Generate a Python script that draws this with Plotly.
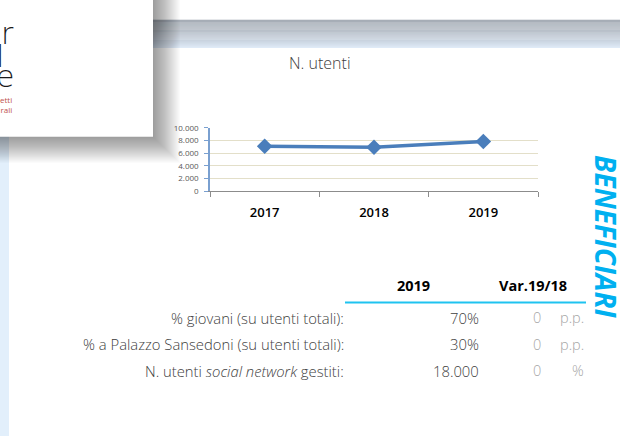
import plotly.graph_objects as go

W, H = 620, 439

# ---- data ----
years = ["2017", "2018", "2019"]
users = [7100, 6950, 7850]
y_ticks = [0, 2000, 4000, 6000, 8000, 10000]

row_labels = [
    "% giovani (su utenti totali):",
    "% a Palazzo Sansedoni (su utenti totali):",
    "N. utenti <i>social network</i> gestiti:",
]
val_2019 = ["70%", "30%", "18.000"]
var_vals = ["0", "0", "0"]
var_units = ["p.p.", "p.p.", "%"]
col_headers = ["2019", "Var.19/18"]


def X(px):
    return px / W


def Y(py):
    return 1 - py / H


def hexmix(c1, c2, t):
    a = [int(c1[i:i + 2], 16) for i in (1, 3, 5)]
    b = [int(c2[i:i + 2], 16) for i in (1, 3, 5)]
    return "#" + "".join(f"{round(a[i] + (b[i] - a[i]) * t):02x}" for i in range(3))


shapes = []
# left light-blue strip
shapes.append(dict(type="rect", xref="paper", yref="paper", x0=X(-2), x1=X(9), y0=Y(441), y1=Y(120),
                   fillcolor="#e2effb", line_width=0, layer="below"))
# top gray gradient band
n = 29
for i in range(n):
    t = i / (n - 1)
    col = hexmix("#99a1ab", "#dfeaf7", t ** 1.3)
    shapes.append(dict(type="rect", xref="paper", yref="paper", x0=X(0), x1=X(622),
                       y0=Y(14 + i + 1.05), y1=Y(14 + i), fillcolor=col, line_width=0, layer="below"))
# card shadow
for k in range(1, 29):
    shapes.append(dict(type="rect", xref="paper", yref="paper", x0=X(-10), x1=X(152 + k),
                       y0=Y(133 + k), y1=Y(-10), fillcolor="rgba(0,0,0,0.0145)", line_width=0, layer="below"))
# white card
shapes.append(dict(type="rect", xref="paper", yref="paper", x0=X(-10), x1=X(153), y0=Y(134), y1=Y(-10),
                   fillcolor="white", line_width=0, layer="below"))
# cyan header line
shapes.append(dict(type="line", xref="paper", yref="paper", x0=X(345), x1=X(586), y0=Y(304), y1=Y(304),
                   line=dict(color="#1fc3f0", width=2)))

ann = []
# logo fragments
logo_font = dict(family="DejaVu Sans", size=30, color="#1a1a1a", weight=200)
ann.append(dict(text="r", x=X(-1), y=Y(28), xanchor="left", yanchor="middle", showarrow=False, font=logo_font,
                xref="paper", yref="paper"))
ann.append(dict(text="l", x=X(-6), y=Y(52), xanchor="left", yanchor="middle", showarrow=False, font=logo_font,
                xref="paper", yref="paper"))
ann.append(dict(text="e", x=X(16), y=Y(72), xanchor="right", yanchor="middle", showarrow=False, font=logo_font,
                xref="paper", yref="paper"))
red_font = dict(family="Open Sans", size=8, color="#c0504d")
ann.append(dict(text="etti<br>rali", x=X(14), y=Y(101), xanchor="right", yanchor="middle", align="right",
                showarrow=False, font=red_font, xref="paper", yref="paper"))

# chart title
ann.append(dict(text="N. utenti", x=X(320), y=Y(58), xanchor="center", yanchor="middle", showarrow=False,
                font=dict(family="Open Sans", size=16, color="#404040", weight=300), xref="paper", yref="paper"))

# vertical label
ann.append(dict(text="<b><i>BENEFICIARI</i></b>", x=X(606), y=Y(236), xanchor="center", yanchor="middle",
                textangle=90, showarrow=False, font=dict(family="Open Sans", size=28, color="#00b0f0"),
                xref="paper", yref="paper"))

# table headers
hdr_font = dict(family="Open Sans", size=14.5, color="#000000", weight="bold")
ann.append(dict(text=col_headers[0], x=X(413), y=Y(287), xanchor="center", yanchor="middle", showarrow=False,
                font=hdr_font, xref="paper", yref="paper"))
ann.append(dict(text=col_headers[1], x=X(533), y=Y(287), xanchor="center", yanchor="middle", showarrow=False,
                font=hdr_font, xref="paper", yref="paper"))

row_y = [320, 347, 374]
lab_font = dict(family="Open Sans", size=14.8, color="#404040", weight=300)
grey_font = dict(family="Open Sans", size=14.5, color="#a6a6a6", weight=300)
for i, yy in enumerate(row_y):
    ann.append(dict(text=row_labels[i], x=X(346), y=Y(yy), xanchor="right", yanchor="middle", showarrow=False,
                    font=lab_font, xref="paper", yref="paper"))
    ann.append(dict(text=val_2019[i], x=X(481), y=Y(yy), xanchor="right", yanchor="middle", showarrow=False,
                    font=lab_font, xref="paper", yref="paper"))
    ann.append(dict(text=var_vals[i], x=X(537), y=Y(yy), xanchor="center", yanchor="middle", showarrow=False,
                    font=grey_font, xref="paper", yref="paper"))
    ann.append(dict(text=var_units[i], x=X(586), y=Y(yy), xanchor="right", yanchor="middle", showarrow=False,
                    font=grey_font, xref="paper", yref="paper"))

fig = go.Figure()
fig.add_trace(go.Scatter(
    x=years, y=users, mode="lines+markers",
    line=dict(color="#4a7ebb", width=3.5),
    marker=dict(symbol="diamond", size=12, color="#4a7ebb"),
    hoverinfo="skip", showlegend=False,
))

fig.update_layout(
    width=W, height=H,
    margin=dict(l=0, r=0, t=0, b=0),
    paper_bgcolor="white", plot_bgcolor="rgba(0,0,0,0)",
    separators=",.",
    shapes=shapes, annotations=ann,
    showlegend=False,
    xaxis=dict(
        type="category", domain=[X(210), X(538)], range=[-0.5, 2.5],
        showline=True, linecolor="#8c8c8c", linewidth=1,
        ticks="outside", ticklen=5, tickcolor="#8c8c8c", tickson="boundaries",
        showgrid=False, zeroline=False,
        tickfont=dict(family="Open Sans", size=13, color="#000000", weight=600),
        ticklabelstandoff=9,
    ),
    yaxis=dict(
        domain=[Y(190), Y(125)], range=[0, 10000], tickvals=y_ticks, tickformat=",d",
        showline=True, linecolor="#7aa0d0", linewidth=1.5,
        ticks="outside", ticklen=4, tickcolor="#7aa0d0",
        gridcolor="#e3dfc9", gridwidth=1, zeroline=False,
        tickfont=dict(family="Open Sans", size=8, color="#595959"),
        ticklabelstandoff=4,
    ),
)

fig.write_html("out.html", config={"displayModeBar": False},
               post_script="document.body.style.margin='0';document.body.style.overflow='hidden';")
